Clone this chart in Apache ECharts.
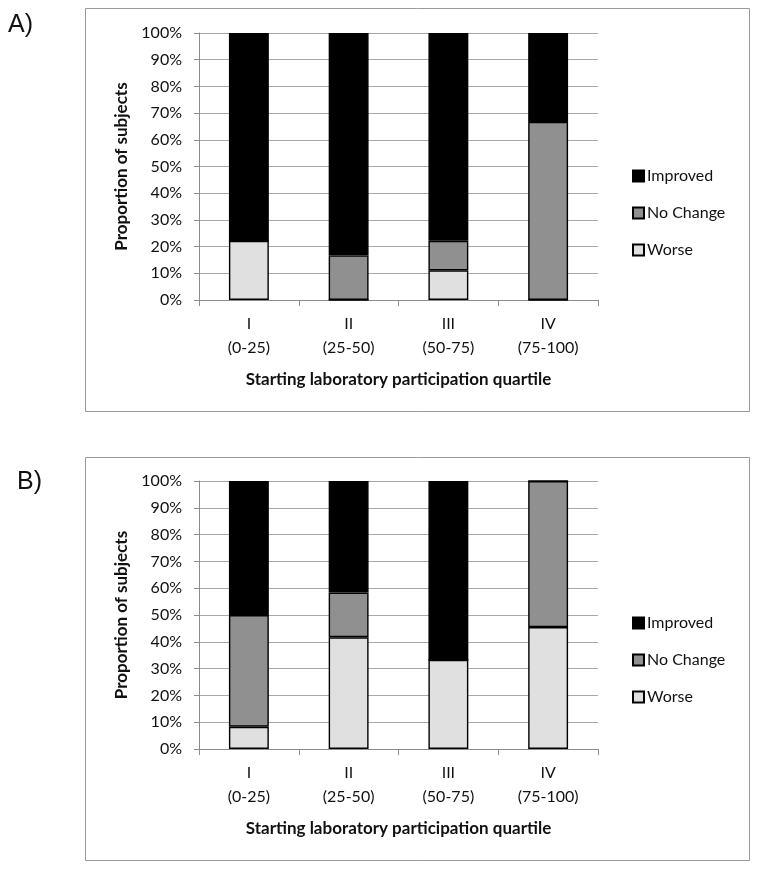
<!DOCTYPE html>
<html>
<head>
<meta charset="utf-8">
<script src="https://cdn.jsdelivr.net/npm/echarts@6/dist/echarts.min.js"></script>
<style>html,body{margin:0;padding:0;background:#fff}#c{width:764px;height:869px}</style>
</head>
<body>
<div id="c"></div>
<script>
const categories = ['I\n(0-25)', 'II\n(25-50)', 'III\n(50-75)', 'IV\n(75-100)'];
const yTicks = [0, 10, 20, 30, 40, 50, 60, 70, 80, 90, 100];
const seriesNames = ['Worse', 'No Change', 'Improved'];
// Panel A
const aWorse = [22.2, 0, 11.1, 0];
const aNoChange = [0, 16.7, 11.1, 66.7];
const aImproved = [77.8, 83.3, 77.8, 33.3];
// Panel B
const bWorse = [8.3, 41.7, 33.3, 45.5];
const bNoChange = [41.7, 16.7, 0, 54.5];
const bImproved = [50.0, 41.6, 66.7, 0];

const colors = { 'Worse': '#e0e0e0', 'No Change': '#909090', 'Improved': '#000000' };
const font = 'Lato, "Open Sans", sans-serif';

const chart = echarts.init(document.getElementById('c'), null, { renderer: 'canvas' });

function xAxis(gi) {
  return {
    type: 'category', gridIndex: gi, data: categories,
    axisLine: { lineStyle: { color: '#8c8c8c', width: 1 } },
    axisTick: { show: true, length: 6, lineStyle: { color: '#8c8c8c' } },
    axisLabel: { color: '#111', fontSize: 16, fontFamily: font, lineHeight: 24, margin: 12 },
    name: 'Starting laboratory participation quartile', nameLocation: 'middle', nameGap: 71,
    nameTextStyle: { color: '#111', fontSize: 17, fontWeight: 'bold', fontFamily: font }
  };
}
function yAxis(gi) {
  return {
    type: 'value', gridIndex: gi, min: 0, max: 100, interval: 10,
    axisLine: { show: true, lineStyle: { color: '#8c8c8c', width: 1 } },
    axisTick: { show: true, length: 5, lineStyle: { color: '#8c8c8c' } },
    splitLine: { lineStyle: { color: '#a8a8a8', width: 1 } },
    axisLabel: { color: '#111', fontSize: 16, fontFamily: font, margin: 17, formatter: v => yTicks.includes(v) ? v + '%' : '' },
    name: 'Proportion of subjects', nameLocation: 'middle', nameGap: 57, nameRotate: 90,
    nameTextStyle: { color: '#111', fontSize: 17, fontWeight: 'bold', fontFamily: font }
  };
}
function mk(name, data, gi) {
  return {
    name, type: 'bar', stack: 's' + gi, xAxisIndex: gi, yAxisIndex: gi, data,
    barCategoryGap: '60%',
    itemStyle: { color: colors[name], borderColor: '#000', borderWidth: 1.4 },
    emphasis: { disabled: true }
  };
}
function legend(top) {
  return {
    orient: 'vertical', left: 632, top: top, padding: 0, itemGap: 21, itemWidth: 11, itemHeight: 11,
    icon: 'rect', data: ['Improved', 'No Change', 'Worse'],
    textStyle: { color: '#111', fontSize: 16, lineHeight: 16, fontFamily: font, padding: [0, 0, 0, -2] },
    selectedMode: false
  };
}

chart.setOption({
  animation: false,
  backgroundColor: '#fff',
  grid: [
    { left: 199, top: 33, width: 399, height: 267 },
    { left: 199, top: 481, width: 399, height: 268 }
  ],
  xAxis: [xAxis(0), xAxis(1)],
  yAxis: [yAxis(0), yAxis(1)],
  legend: [legend(168), legend(615)],
  series: [
    mk('Worse', aWorse, 0), mk('No Change', aNoChange, 0), mk('Improved', aImproved, 0),
    mk('Worse', bWorse, 1), mk('No Change', bNoChange, 1), mk('Improved', bImproved, 1)
  ],
  graphic: [
    { type: 'rect', shape: { x: 85.5, y: 8.5, width: 664, height: 403 }, style: { fill: null, stroke: '#9a9a9a', lineWidth: 1 }, z: -1 },
    { type: 'rect', shape: { x: 85.5, y: 457.5, width: 664, height: 403 }, style: { fill: null, stroke: '#9a9a9a', lineWidth: 1 }, z: -1 },
    { type: 'text', left: 8, top: 13, style: { text: 'A)', fontSize: 25, fontFamily: '"Liberation Sans", Arial, sans-serif', fill: '#111' } },
    { type: 'text', left: 17, top: 470, style: { text: 'B)', fontSize: 25, fontFamily: '"Liberation Sans", Arial, sans-serif', fill: '#111' } }
  ]
});
</script>
</body>
</html>
